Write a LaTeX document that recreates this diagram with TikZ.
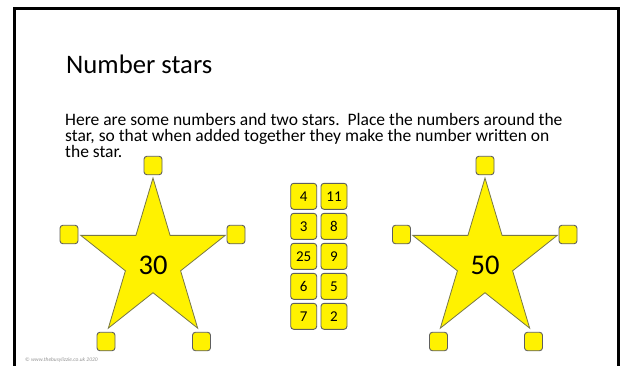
\documentclass[tikz,border=0pt]{standalone}
\usepackage{fontspec}
\setmainfont{Carlito}
\usetikzlibrary{positioning}

\definecolor{boxline}{RGB}{95,95,95}
\definecolor{starline}{RGB}{120,120,70}
\definecolor{marktext}{RGB}{150,150,150}

\tikzset{
	answerbox/.style={draw=boxline, fill=yellow, line width=0.9pt, rounded corners=3pt, minimum width=18pt, minimum height=18.5pt, inner sep=0pt},
	numtile/.style={draw=boxline, fill=yellow, line width=0.9pt, rounded corners=3pt, minimum size=26pt, inner sep=0pt, font=\fontsize{15}{15}\selectfont},
	starbody/.style={draw=starline, fill=yellow, line width=0.8pt, line join=miter},
	starnum/.style={inner sep=0pt, font=\fontsize{28.5}{28.5}\selectfont},
	bodyline/.style={anchor=base west, inner sep=0pt, font=\fontsize{17.5}{16}\selectfont},
	frame/.style={line width=3.5pt, draw=black}
}

\begin{document}
\begin{tikzpicture}[x=1pt, y=-1pt]
			\useasboundingbox[fill=white] (0,0) rectangle (626,365);
			\draw[frame] (14.5,380) |- (618.5,8.5) -- (618.5,380);
			\node[anchor=base west, inner sep=0pt, font=\fontsize{26.7}{27}\selectfont] (title) at (66,73.3) {Number stars};
			\node[bodyline] (line1) at (65,125) {Here are some numbers and two stars.\ \ Place the numbers around the};
			\node[bodyline] (line2) at (65,141) {star, so that when added together they make the number written on};
			\node[bodyline] (line3) at (65,157) {the star.};
			\draw[starbody, shift={(153,261)}, xscale=76, yscale=83] (-90:1) -- (-54:0.382) -- (-18:1) -- (18:0.382) -- (54:1) -- (90:0.382) -- (126:1) -- (162:0.382) -- (198:1) -- (234:0.382) -- cycle;
			\node[starnum] (star30) at (153,265) {30};
			\node[answerbox] (top30) at (153,165.5) {};
			\node[answerbox] (left30) at (69,234.5) {};
			\node[answerbox] (right30) at (236,234.5) {};
			\node[answerbox] (botleft30) at (106,341.5) {};
			\node[answerbox] (botright30) at (201.5,341.5) {};
			\draw[starbody, shift={(485,261)}, xscale=76, yscale=83] (-90:1) -- (-54:0.382) -- (-18:1) -- (18:0.382) -- (54:1) -- (90:0.382) -- (126:1) -- (162:0.382) -- (198:1) -- (234:0.382) -- cycle;
			\node[starnum] (star50) at (485,265) {50};
			\node[answerbox] (top50) at (485,165.5) {};
			\node[answerbox] (left50) at (401.5,234.5) {};
			\node[answerbox] (right50) at (568,234.5) {};
			\node[answerbox] (botleft50) at (438.5,341.5) {};
			\node[answerbox] (botright50) at (533.5,341.5) {};
			\foreach \a/\b [count=\r] in {4/11, 3/8, 25/9, 6/5, 7/2} {
				\node[numtile] (tile\r a) at (303.7,166.3+30*\r) {\a};
				\node[numtile] (tile\r b) at (334,166.3+30*\r) {\b};
			}
			\node[anchor=base west, inner sep=0pt, text=marktext, font=\fontsize{5.5}{6}\selectfont\itshape] (credit) at (25,361.5) {© www.thebusylizzie.co.uk 2020};
		\end{tikzpicture}
\end{document}
